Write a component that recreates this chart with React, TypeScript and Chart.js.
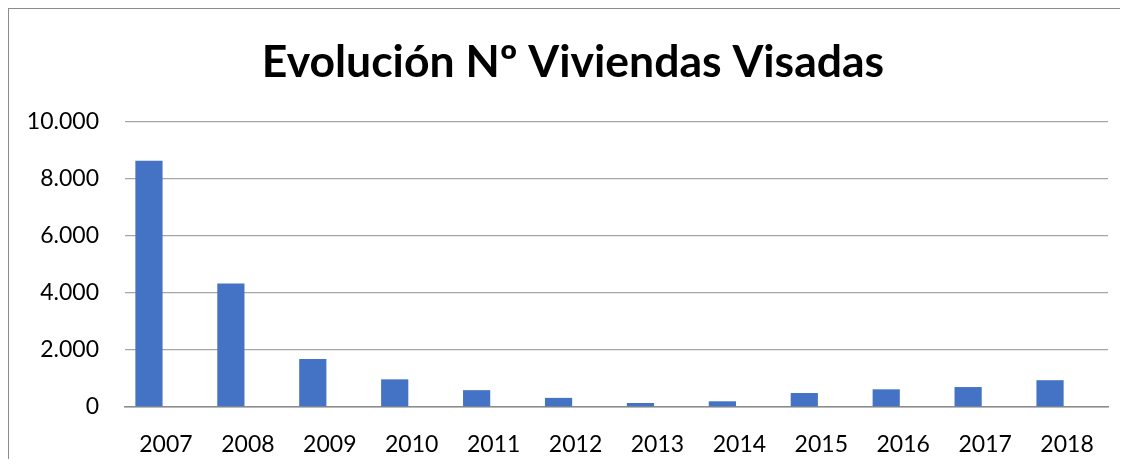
import React, { useEffect, useRef } from "react";
import { Chart, registerables } from "chart.js";

Chart.register(...registerables);

const years = ["2007", "2008", "2009", "2010", "2011", "2012", "2013", "2014", "2015", "2016", "2017", "2018"];
const viviendas = [8640, 4330, 1680, 970, 590, 320, 140, 200, 490, 620, 700, 940];
const emptySeries = [null, null, null, null, null, null, null, null, null, null, null, null];
const yTicks = [0, 2000, 4000, 6000, 8000, 10000];
const titleText = "Evolución Nº Viviendas Visadas";

const fmt = (v: number) => String(v).replace(/\B(?=(\d{3})+(?!\d))/g, ".");

export default function App() {
  const ref = useRef<HTMLCanvasElement | null>(null);

  useEffect(() => {
    if (!ref.current) return;
    const chart = new Chart(ref.current, {
      type: "bar",
      data: {
        labels: years,
        datasets: [
          {
            label: "Viviendas",
            data: viviendas,
            backgroundColor: "#4472C4",
            categoryPercentage: 0.83,
            barPercentage: 0.8,
          },
          {
            label: "",
            data: emptySeries as any,
            backgroundColor: "#ED7D31",
            categoryPercentage: 0.83,
            barPercentage: 0.8,
          },
        ],
      },
      options: {
        animation: false,
        responsive: true,
        maintainAspectRatio: false,
        layout: { padding: { left: 9, right: 0, top: 0, bottom: 0 } },
        plugins: {
          legend: { display: false },
          tooltip: { enabled: false },
          title: {
            display: true,
            text: titleText,
            color: "#000000",
            font: { family: "Lato", size: 44.5, weight: "bold" },
            padding: { top: 27, bottom: 32.5 },
          },
        },
        scales: {
          x: {
            grid: { display: false },
            border: { display: true, color: "#8c8c8c", width: 1.5 },
            ticks: {
              color: "#000000",
              font: { family: "Lato", size: 23 },
              padding: 16,
              maxRotation: 0,
            },
            afterFit: (s: any) => {
              s.height = 52;
            },
          },
          y: {
            min: 0,
            max: 10000,
            afterBuildTicks: (s: any) => {
              s.ticks = yTicks.map((v) => ({ value: v }));
            },
            grid: { color: "#a6a6a6", lineWidth: 1.3, drawTicks: false },
            border: { display: false },
            ticks: {
              color: "#000000",
              font: { family: "Lato", size: 23 },
              padding: 26,
              callback: (v: any) => fmt(Number(v)),
            },
            afterFit: (s: any) => {
              s.width = 107;
            },
          },
          yRight: {
            type: "linear",
            axis: "y",
            position: "right",
            min: 0,
            max: 10000,
            grid: { display: false, drawTicks: false },
            border: { display: false },
            ticks: { display: false },
            afterFit: (s: any) => {
              s.width = 20;
            },
          },
        },
      },
    });
    return () => chart.destroy();
  }, []);

  return (
    <div
      style={{
        width: 1119,
        height: 450,
        borderLeft: "1px solid #8c8c8c",
        borderTop: "1px solid #8c8c8c",
        background: "#ffffff",
      }}
    >
      <div style={{ position: "relative", width: 1119, height: 450 }}>
        <canvas ref={ref} />
      </div>
    </div>
  );
}
